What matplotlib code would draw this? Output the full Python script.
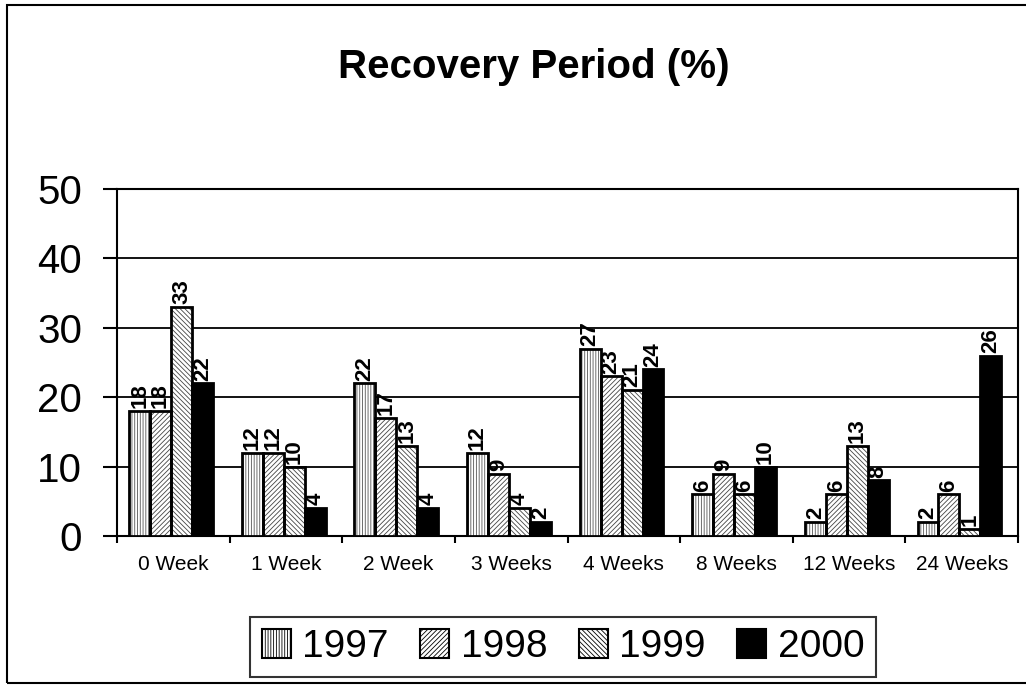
import matplotlib
matplotlib.use("Agg")
import matplotlib.pyplot as plt
import matplotlib.patches as mpatches
import numpy as np

categories = ["0 Week", "1 Week", "2 Week", "3 Weeks", "4 Weeks", "8 Weeks", "12 Weeks", "24 Weeks"]
years = ["1997", "1998", "1999", "2000"]
v1997 = [18, 12, 22, 12, 27, 6, 2, 2]
v1998 = [18, 12, 17, 9, 23, 9, 6, 6]
v1999 = [33, 10, 13, 4, 21, 6, 13, 1]
v2000 = [22, 4, 4, 2, 24, 10, 8, 26]
series = [v1997, v1998, v1999, v2000]
yticks = [0, 10, 20, 30, 40, 50]

plt.rcParams['font.family'] = ['Liberation Sans', 'DejaVu Sans']
plt.rcParams['hatch.linewidth'] = 0.6

fig = plt.figure(figsize=(10.26, 6.86), dpi=100)
ax = fig.add_axes([117/1026, 1-536/686, (1018-117)/1026, (536-189)/686])

hatches = ['||||||', '///////', '\\\\\\\\\\\\\\', None]
faces = ['white', 'white', 'white', 'black']
hcolors = ['#555555', '#444444', '#444444', 'black']
width = 0.186
x = np.arange(len(categories))
center = 0.48
for k, vals in enumerate(series):
    pos = x + center + (k - 1.5) * width
    ax.bar(pos, vals, width, facecolor=faces[k], edgecolor=hcolors[k],
           hatch=hatches[k], linewidth=0, zorder=3)
    cont = ax.bar(pos, vals, width, fill=False, edgecolor='black', linewidth=2, zorder=4)
    ax.bar_label(cont, labels=[str(v) for v in vals], rotation=90, padding=2,
                 fontsize=16, fontweight='bold', zorder=5)

ax.set_xlim(0, 8)
ax.set_ylim(0, 50)
ax.set_yticks(yticks)
ax.set_yticklabels([str(t) for t in yticks], fontsize=29)
ax.tick_params(axis='y', direction='out', length=10, width=1.5, pad=15)
ax.set_xticks(x + 0.5)
ax.set_xticklabels(categories, fontsize=15)
ax.tick_params(axis='x', which='major', length=0, pad=14)
ax.set_xticks(np.arange(0, 9), minor=True)
ax.tick_params(axis='x', which='minor', direction='out', length=5, width=1.5)
ax.yaxis.grid(True, color='black', linewidth=1.3, zorder=1)
ax.set_axisbelow(True)
for s in ax.spines.values():
    s.set_linewidth(1.5)
    s.set_color('black')

fig.text(0.52, 1-67/686, "Recovery Period (%)", fontsize=29, fontweight='bold',
         ha='center', va='center')

frame = mpatches.Rectangle((7/1026, 3/686), 1.1, 1-8/686, transform=fig.transFigure,
                           fill=False, edgecolor='black', linewidth=1.5)
fig.patches.append(frame)

handles = [mpatches.Patch(facecolor=faces[k], edgecolor='black', hatch=hatches[k], linewidth=1.5)
           for k in range(4)]
leg = fig.legend(handles, years, loc='center', bbox_to_anchor=(563/1026, 1-647/686), ncol=4,
                 fontsize=28, frameon=True, fancybox=False, edgecolor='black',
                 handlelength=0.75, handleheight=0.75, handletextpad=0.3,
                 columnspacing=0.8, borderpad=0.3, borderaxespad=0)
leg.get_frame().set_linewidth(1.5)

fig.savefig("out.png", dpi=100)
